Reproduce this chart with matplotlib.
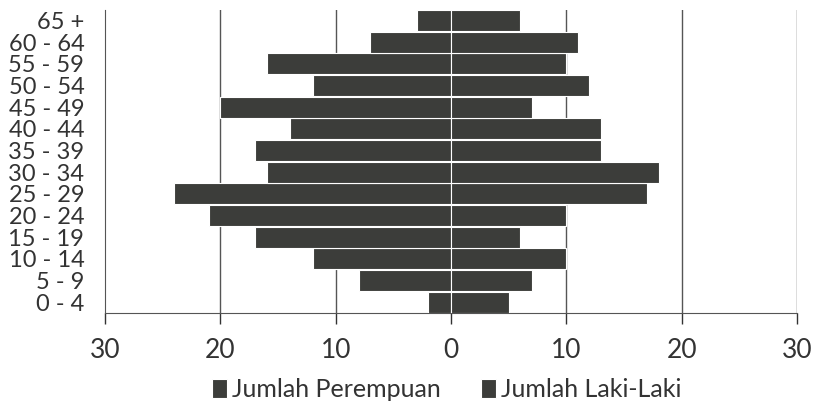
import numpy as np
import matplotlib.pyplot as plt
from matplotlib.ticker import FuncFormatter

# kelompok umur, dari bawah ke atas
umur = ["0 - 4", "5 - 9", "10 - 14", "15 - 19", "20 - 24", "25 - 29", "30 - 34",
        "35 - 39", "40 - 44", "45 - 49", "50 - 54", "55 - 59", "60 - 64", "65 +"]
perempuan = [2, 8, 12, 17, 21, 24, 16, 17, 14, 20, 12, 16, 7, 3]
laki_laki = [5, 7, 10, 6, 10, 17, 18, 13, 13, 7, 12, 10, 11, 6]
x_ticks = [-30, -20, -10, 0, 10, 20, 30]

warna = "#3c3d3a"
plt.rcParams['font.family'] = ['Lato', 'DejaVu Sans']

fig = plt.figure(figsize=(8.15, 4.09), dpi=100)
ax = fig.add_axes([0.129, 0.235, 0.849, 0.741])

y = np.arange(len(umur))
ax.barh(y, [-v for v in perempuan], height=0.97, color=warna, edgecolor="white",
        linewidth=0.8, label="Jumlah Perempuan", zorder=3)
ax.barh(y, laki_laki, height=0.97, color=warna, edgecolor="white",
        linewidth=0.8, label="Jumlah Laki-Laki", zorder=3)

ax.set_xlim(-30, 30)
ax.set_ylim(-0.5, len(umur) - 0.5)
ax.set_xticks(x_ticks)
ax.xaxis.set_major_formatter(FuncFormatter(lambda v, p: f"{abs(int(v))}"))
ax.set_yticks(y)
ax.set_yticklabels(umur)

# garis grid vertikal
for xv in [-20, -10, 10, 20, 30]:
    ax.axvline(xv, color="#555555", linewidth=1.0, zorder=1)

for s in ["top", "right"]:
    ax.spines[s].set_visible(False)
ax.spines["left"].set_color("#555555")
ax.spines["bottom"].set_color("#555555")

ax.tick_params(axis="y", length=0, labelsize=17, pad=15, colors="#333333")
ax.tick_params(axis="x", length=8, direction="out", labelsize=19, pad=10,
               colors="#333333", width=1)

leg = fig.legend(loc="center", bbox_to_anchor=(0.548, 0.047), ncol=2,
                 frameon=False, fontsize=18, handlelength=0.6, handleheight=0.8,
                 handletextpad=0.2, columnspacing=1.6, borderpad=0)
for t in leg.get_texts():
    t.set_color("#333333")

fig.savefig("out.png", dpi=100)
